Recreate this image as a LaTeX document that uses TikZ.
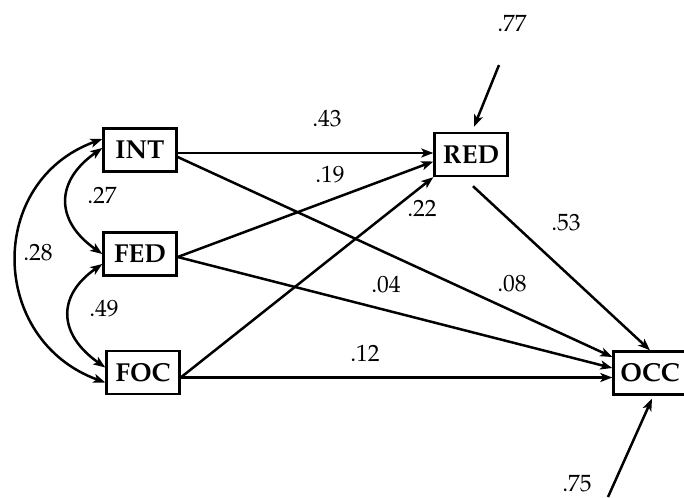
\documentclass[tikz,border=0pt]{standalone}
\usepackage{fontspec}
\setmainfont{TeX Gyre Pagella}
\usetikzlibrary{arrows.meta}
\begin{document}
\begin{tikzpicture}[x=1pt,y=-1pt,
  var/.style={draw, line width=2.4pt, rectangle, inner sep=0pt, minimum width=73pt, minimum height=43pt, font=\fontsize{26}{30}\selectfont\bfseries},
  lab/.style={inner sep=0pt, font=\fontsize{23.5}{27}\selectfont},
  tip/.style={Stealth[length=12pt,width=9pt,inset=3pt]},
  path/.style={line width=2.5pt, -{Stealth[length=12pt,width=9pt,inset=3pt]}},
  cov/.style={line width=2.5pt, {Stealth[length=12pt,width=9pt,inset=3pt]}-{Stealth[length=12pt,width=9pt,inset=3pt]}}]
\useasboundingbox (0,0) rectangle (684,497);
\node[var] (INT) at (140,150) {INT};
\node[var] (FED) at (140,254) {FED};
\node[var] (FOC) at (143,372.5) {FOC};
\node[var] (RED) at (471,154.5) {RED};
\node[var] (OCC) at (650,373) {OCC};
\coordinate (e1) at (499,65);
\coordinate (e2) at (608,497);
% paths
\draw[path] ([yshift=-3pt]INT.east) -- ([yshift=-3pt]INT.east -| RED.west);
\draw[path] ([yshift=-7pt]INT.east) -- ([yshift=16pt]OCC.west);
\draw[path] ([yshift=-3pt]FED.east) -- ([yshift=-7pt]RED.west);
\draw[path] ([yshift=-3pt]FED.east) -- ([yshift=5pt]OCC.west);
\draw[path] ([yshift=-5pt]FOC.east) -- (RED.south west);
\draw[path] ([yshift=-5pt]FOC.east) -- ([yshift=-5pt]FOC.east -| OCC.west);
\draw[path] ([shift={(2pt,-9pt)}]RED.south) -- (OCC.north);
\draw[path] (e1) -- ([shift={(3pt,5pt)}]RED.north);
\draw[path] (e2) -- ([shift={(2pt,-3pt)}]OCC.south);
% covariances
\draw[cov] ([yshift=2pt]INT.west) to[out=215,in=145,looseness=1.4] (FED.west);
\draw[cov] ([yshift=-10pt]FED.west) to[out=215,in=145,looseness=1.4] ([yshift=5pt]FOC.west);
\draw[cov] ([yshift=11pt]INT.west) to[out=200,in=160,looseness=1.3] ([yshift=-10pt]FOC.west);
% labels
\node[lab] (l43) at (327,119) {.43};
\node[lab] (l19) at (330,175) {.19};
\node[lab] (l22) at (422,208) {.22};
\node[lab] (l53) at (566,223) {.53};
\node[lab] (l04) at (386,285) {.04};
\node[lab] (l08) at (512,284) {.08};
\node[lab] (l12) at (365,353) {.12};
\node[lab] (l27) at (102,195) {.27};
\node[lab] (l28) at (38,253) {.28};
\node[lab] (l49) at (104,309) {.49};
\node[lab] (l77) at (512,23) {.77};
\node[lab] (l75) at (577,484) {.75};
\end{tikzpicture}
\end{document}
